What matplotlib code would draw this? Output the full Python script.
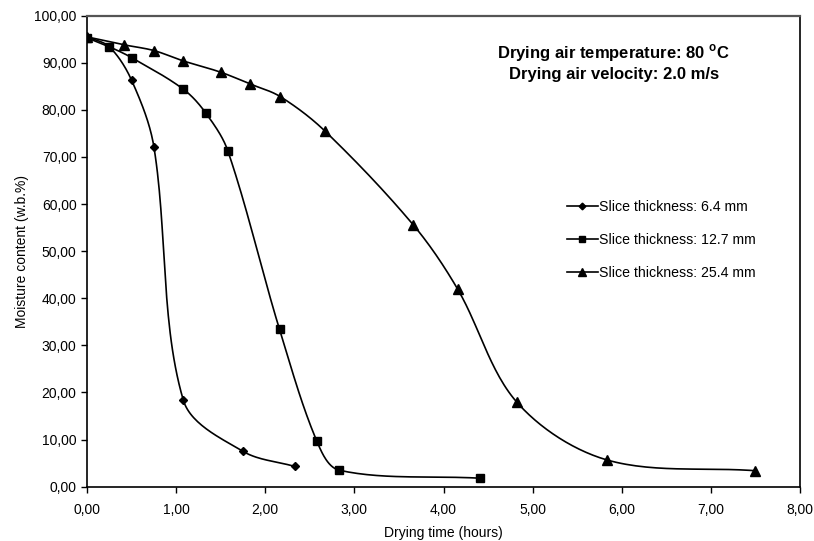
import numpy as np
import matplotlib.pyplot as plt
from matplotlib.ticker import FuncFormatter

plt.rcParams['font.family'] = ['Liberation Sans', 'DejaVu Sans']

# Drying curves (time in hours, moisture content w.b. %)
t_64 = [0.00, 0.25, 0.50, 0.75, 1.08, 1.75, 2.33]
m_64 = [95.5, 93.4, 86.3, 72.2, 18.4, 7.5, 4.3]

t_127 = [0.00, 0.25, 0.50, 1.08, 1.33, 1.58, 2.16, 2.58, 2.83, 4.41]
m_127 = [95.3, 93.4, 91.1, 84.4, 79.4, 71.3, 33.4, 9.6, 3.5, 1.8]

t_254 = [0.00, 0.42, 0.75, 1.08, 1.50, 1.83, 2.17, 2.67, 3.66, 4.16, 4.82, 5.83, 7.49]
m_254 = [95.5, 93.8, 92.6, 90.4, 88.0, 85.5, 82.8, 75.5, 55.6, 41.9, 18.0, 5.7, 3.4]

labels = ["Slice thickness: 6.4 mm", "Slice thickness: 12.7 mm", "Slice thickness: 25.4 mm"]


def smooth(x, y, n=30, sx=89.0, sy=4.7):
    # bezier smoothing with chord-length weighted tangents (like a spreadsheet smoothed line)
    x = np.asarray(x, float) * sx
    y = np.asarray(y, float) * sy
    pts = np.column_stack([x, y])
    d = np.hypot(np.diff(x), np.diff(y))
    tang = np.zeros_like(pts)
    tang[0] = pts[1] - pts[0]
    tang[-1] = pts[-1] - pts[-2]
    for i in range(1, len(pts) - 1):
        tang[i] = (pts[i + 1] - pts[i - 1]) / (d[i - 1] + d[i])
    tang[0] /= d[0]
    tang[-1] /= d[-1]
    s = np.linspace(0, 1, n)
    xs, ys = [], []
    for i in range(len(pts) - 1):
        p1, p2 = pts[i], pts[i + 1]
        c1 = p1 + tang[i] * d[i] / 3
        c2 = p2 - tang[i + 1] * d[i] / 3
        b = ((1 - s) ** 3)[:, None] * p1 + (3 * (1 - s) ** 2 * s)[:, None] * c1 \
            + (3 * (1 - s) * s ** 2)[:, None] * c2 + (s ** 3)[:, None] * p2
        xs.extend(b[:, 0] / sx)
        ys.extend(b[:, 1] / sy)
    return xs, ys


fig = plt.figure(figsize=(8.14, 5.41), dpi=100)
ax = fig.add_axes([0.1069, 0.1004, 0.8759, 0.8706])

for t, m, mk, ms, lab in [(t_64, m_64, 'D', 4, labels[0]),
                          (t_127, m_127, 's', 5.5, labels[1]),
                          (t_254, m_254, '^', 6.5, labels[2])]:
    sx, sy = smooth(t, m)
    ax.plot(sx, sy, color='black', linewidth=1.2)
    ax.plot(t, m, linestyle='none', marker=mk, markersize=ms, color='black')
    ax.plot([], [], color='black', linewidth=1.2, marker=mk, markersize=ms * 0.85, label=lab)

ax.set_xlim(0, 8)
ax.set_ylim(0, 100)
ax.set_xticks(np.arange(0, 9, 1))
ax.set_yticks(np.arange(0, 101, 10))
fmt = FuncFormatter(lambda v, p: f"{v:.2f}".replace('.', ','))
ax.xaxis.set_major_formatter(fmt)
ax.yaxis.set_major_formatter(fmt)
ax.tick_params(labelsize=10, length=4, width=1, colors='black')
ax.tick_params(axis='x', pad=8)
for s in ['left', 'bottom', 'right']:
    ax.spines[s].set_color('black')
    ax.spines[s].set_linewidth(1.2)
ax.spines['top'].set_color('#555555')
ax.spines['top'].set_linewidth(1.6)

ax.set_xlabel("Drying time (hours)", fontsize=10, labelpad=6)
ax.set_ylabel("Moisture content (w.b.%)", fontsize=10, labelpad=4)

ax.text(0.739, 0.902, "Drying air temperature: 80 $^\\mathregular{o}$C\nDrying air velocity: 2.0 m/s",
        transform=ax.transAxes, ha='center', va='center', fontsize=12,
        fontweight='bold', linespacing=1.25)

ax.legend(loc='center left', bbox_to_anchor=(0.655, 0.524), frameon=False, fontsize=10.2,
          handlelength=2.2, handletextpad=0.1, labelspacing=1.35)

fig.savefig("out.png", dpi=100)
